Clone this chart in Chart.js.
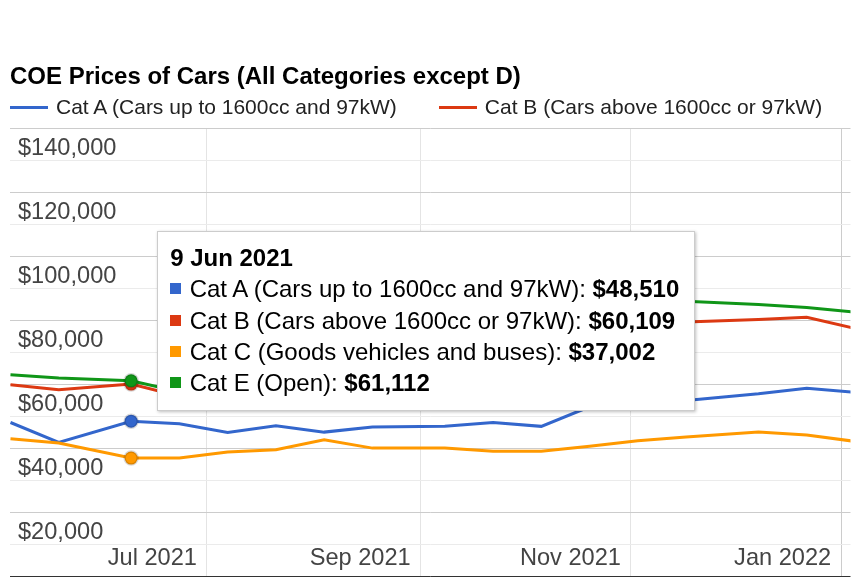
<!DOCTYPE html>
<html>
<head>
<meta charset="utf-8">
<script src="https://cdn.jsdelivr.net/npm/chart.js@4.4.1/dist/chart.umd.min.js"></script>
<style>
html,body{margin:0;padding:0;background:#fff;}
#wrap{position:relative;width:852px;height:578px;overflow:hidden;font-family:"Liberation Sans",Arial,sans-serif;}
#c{display:block;}
#legend{position:absolute;left:10px;top:95px;display:flex;align-items:center;font-size:21px;line-height:24px;color:#222;white-space:nowrap;}
.li{display:flex;align-items:center;}
.li + .li{margin-left:42px;}
.ln{display:inline-block;width:38px;height:3px;margin-right:8px;}
#tip{position:absolute;display:none;background:#fff;border:1px solid #cccccc;box-shadow:1px 1px 3px rgba(0,0,0,0.25);padding:10px 15px 12px 12px;font-size:24px;color:#000;white-space:nowrap;}
.tt-title{font-weight:bold;line-height:31px;}
.tt-row{line-height:31.3px;display:flex;align-items:center;}
.sw{display:inline-block;width:11px;height:11px;margin-right:8.5px;flex:none;}
</style>
</head>
<body>
<div id="wrap">
  <canvas id="c" width="852" height="578"></canvas>
  <div id="legend"></div>
  <div id="tip"></div>
</div>
<script>
// ---- data ----
const chartTitle = 'COE Prices of Cars (All Categories except D)';
const dates = ['2021-05-05','2021-05-19','2021-06-09','2021-06-23','2021-07-07','2021-07-21','2021-08-04','2021-08-18',
               '2021-09-08','2021-09-22','2021-10-06','2021-10-20','2021-11-03','2021-11-17','2021-12-08','2021-12-22','2022-01-05'];
const catA = [48100, 41900, 48510, 47700, 45000, 47100, 45100, 46700, 46900, 48100, 46900, 53000, 54500, 55000, 57050, 58800, 57500];
const catB = [59900, 58300, 60109, 56300, 59500, 63000, 64500, 66000, 69000, 70500, 71500, 73000, 76500, 79500, 80300, 81000, 77500];
const catC = [43000, 41700, 37002, 37000, 38900, 39600, 42700, 40100, 40100, 39100, 39100, 40700, 42400, 43600, 45100, 44200, 42200];
const catE = [63000, 62000, 61112, 57700, 60000, 64000, 66000, 67500, 70500, 72000, 73500, 75000, 79000, 86000, 85000, 84000, 82600];
const seriesNames = ['Cat A (Cars up to 1600cc and 97kW)','Cat B (Cars above 1600cc or 97kW)','Cat C (Goods vehicles and buses)','Cat E (Open)'];
const seriesColors = ['#3366cc','#dc3912','#ff9900','#109618'];
const tickDates = ['2021-07-01','2021-09-01','2021-11-01','2022-01-01'];
const tickLabels = ['Jul 2021','Sep 2021','Nov 2021','Jan 2022'];
const monthNames = ['Jan','Feb','Mar','Apr','May','Jun','Jul','Aug','Sep','Oct','Nov','Dec'];
const yMin = 0, yMax = 140000, yStep = 10000, yLabelStep = 20000;
const focusDate = '2021-06-09';
const legendCount = 2;

// ---- helpers ----
function dayNum(s){ const [y,m,d]=s.split('-').map(Number); return (Date.UTC(y,m-1,d)-Date.UTC(2021,0,1))/86400000; }
function fmtMoney(v){ return '$' + String(Math.round(v)).replace(/\B(?=(\d{3})+(?!\d))/g, ','); }
function fmtDate(s){ const [y,m,d]=s.split('-').map(Number); return d + ' ' + monthNames[m-1] + ' ' + y; }
const xMin = dayNum('2021-05-04') + 0.86;
const xMax = dayNum('2022-01-03') + 0.7;

const FONT = '"Liberation Sans", Arial, sans-serif';
Chart.defaults.font.family = FONT;

const seriesValues = [catA, catB, catC, catE];

function externalTip(context){
  const {chart, tooltip} = context;
  const el = document.getElementById('tip');
  if (tooltip.opacity === 0 || !tooltip.dataPoints || !tooltip.dataPoints.length){ el.style.display='none'; return; }
  let html = '<div class="tt-title">' + tooltip.title.join(' ') + '</div>';
  tooltip.dataPoints.slice().sort((a,b)=>a.datasetIndex-b.datasetIndex).forEach(p=>{
    html += '<div class="tt-row"><span class="sw" style="background:' + p.dataset.borderColor + '"></span><span>' +
            p.dataset.label + ': <b>' + fmtMoney(p.parsed.y) + '</b></span></div>';
  });
  el.innerHTML = html;
  el.style.display = 'block';
  el.style.left = (tooltip.caretX + 26) + 'px';
  el.style.top = (chart.chartArea.top + 103) + 'px';
}

const htmlLegend = {
  id: 'htmlLegend',
  afterUpdate(chart){
    const box = document.getElementById('legend');
    const items = Chart.defaults.plugins.legend.labels.generateLabels(chart)
      .sort((a,b)=>a.datasetIndex-b.datasetIndex).slice(0, legendCount);
    box.innerHTML = '';
    items.forEach(it=>{
      const li = document.createElement('div'); li.className='li';
      const ln = document.createElement('span'); ln.className='ln'; ln.style.background = it.strokeStyle;
      const tx = document.createElement('span'); tx.textContent = it.text;
      li.appendChild(ln); li.appendChild(tx); box.appendChild(li);
    });
  }
};

// draws the x scale's own tick labels inside the plot, just left of each gridline
const insideXLabels = {
  id: 'insideXLabels',
  afterDraw(chart){
    const sc = chart.scales.x, ctx = chart.ctx, ca = chart.chartArea;
    ctx.save();
    ctx.font = '23.6px ' + FONT;
    ctx.fillStyle = '#444444';
    ctx.textAlign = 'right';
    ctx.textBaseline = 'middle';
    sc.ticks.forEach((t, i) => {
      const label = (t.label !== undefined && t.label !== null && t.label !== '') ? t.label : tickLabels[i];
      ctx.fillText(label, sc.getPixelForValue(t.value) - 10, ca.bottom - 18);
    });
    ctx.restore();
  }
};

const chart = new Chart(document.getElementById('c'), {
  type: 'line',
  data: {
    datasets: seriesValues.map((vals,i)=>({
      label: seriesNames[i],
      order: seriesValues.length - 1 - i,
      data: dates.map((d,j)=>({x: dayNum(d), y: vals[j]})),
      borderColor: seriesColors[i],
      backgroundColor: seriesColors[i],
      borderWidth: 3,
      tension: 0,
      fill: false,
      pointRadius: 0,
      pointBackgroundColor: seriesColors[i],
      pointHoverBackgroundColor: seriesColors[i],
      pointHoverRadius: 6.5,
      pointHoverBorderWidth: 2.5,
      pointHoverBorderColor: 'rgba(0,0,0,0.15)'
    }))
  },
  options: {
    responsive: false,
    animation: false,
    devicePixelRatio: 1,
    layout: { padding: { left: 10, right: 0, top: 0, bottom: 1 } },
    interaction: { mode: 'index', intersect: false },
    events: [],
    scales: {
      x: {
        type: 'linear', min: xMin, max: xMax,
        afterBuildTicks: s => { s.ticks = tickDates.map(d => ({ value: dayNum(d) })); },
        afterFit: s => { s.height = 0; s.paddingLeft = 0; s.paddingRight = 0; },
        grid: { drawTicks: false, color: ctx => ctx.index === tickDates.length - 1 ? '#cccccc' : '#e4e4e4', lineWidth: 1 },
        border: { display: false },
        ticks: {
          display: false, autoSkip: false, maxRotation: 0, minRotation: 0,
          callback: (v, i) => tickLabels[i]
        }
      },
      y: {
        min: yMin, max: yMax,
        afterFit: s => { s.width = 0; s.paddingTop = 0; s.paddingBottom = 0; },
        grid: { drawTicks: false, color: ctx => { const v = ctx.tick.value; return v === 0 ? '#333333' : (v % yLabelStep === 0 ? '#cccccc' : '#ebebeb'); } },
        border: { display: false },
        ticks: {
          stepSize: yStep, autoSkip: false, mirror: true, padding: 8, labelOffset: 20,
          color: '#444444', font: { size: 23.6 },
          callback: v => (v > 0 && v % yLabelStep === 0) ? fmtMoney(v) : ''
        }
      }
    },
    plugins: {
      legend: { display: false },
      title: {
        display: true, text: chartTitle, align: 'start', color: '#000000',
        font: { size: 24, weight: 'bold' }, padding: { top: 62.5, bottom: 37 }
      },
      tooltip: {
        enabled: false,
        external: externalTip,
        itemSort: (a, b) => a.datasetIndex - b.datasetIndex,
        callbacks: { title: items => fmtDate(dates[items[0].dataIndex]) }
      }
    }
  },
  plugins: [htmlLegend, insideXLabels]
});

const idx = dates.indexOf(focusDate);
const active = seriesValues.map((_, i) => ({ datasetIndex: i, index: idx }));
chart.setActiveElements(active);
chart.update();
const p0 = chart.getDatasetMeta(0).data[idx];
chart.tooltip.setActiveElements(active, { x: p0.x, y: p0.y });
</script>
</body>
</html>
